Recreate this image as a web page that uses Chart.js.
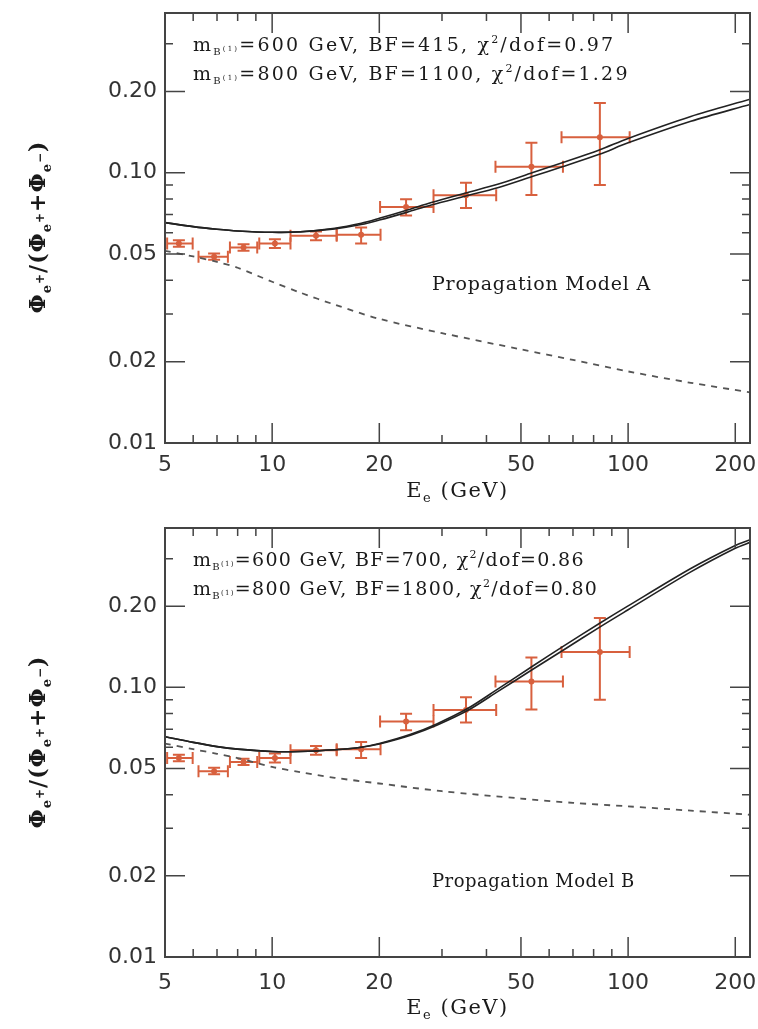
<!DOCTYPE html>
<html>
<head>
<meta charset="utf-8">
<script src="https://cdn.jsdelivr.net/npm/chart.js@4.4.0/dist/chart.umd.min.js"></script>
<style>
  html, body { margin: 0; padding: 0; background: #fff; }
  canvas { display: block; }
</style>
</head>
<body>
<canvas id="chartA" width="758" height="515"></canvas>
<canvas id="chartB" width="758" height="514"></canvas>
<script>
// axis ticks
const xTicks = [5, 10, 20, 50, 100, 200];
const xMinor = [6, 7, 8, 9, 30, 40, 60, 70, 80, 90];
const yTicks = [0.01, 0.02, 0.05, 0.10, 0.20];
const yMinor = [0.03, 0.04, 0.06, 0.07, 0.08, 0.09, 0.3];

// measured positron fraction (same points in both panels)
const dataE = [5.47, 6.87, 8.31, 10.18, 13.28, 17.78, 23.78, 35.04, 53.5, 83.3];
const dataF = [0.0547, 0.0489, 0.0529, 0.0547, 0.0584, 0.0589, 0.0747, 0.0825, 0.1052, 0.1353];
const dataELow = [5.07, 6.21, 7.61, 9.20, 11.26, 15.18, 20.1, 28.4, 42.4, 65.0];
const dataEHigh = [5.98, 7.51, 9.08, 11.26, 15.18, 20.16, 28.4, 42.6, 65.6, 101];
const dataFLow = [0.0532, 0.0476, 0.0515, 0.0527, 0.0563, 0.0547, 0.0694, 0.0741, 0.0828, 0.0900];
const dataFHigh = [0.0563, 0.0503, 0.0544, 0.0568, 0.0606, 0.0627, 0.0798, 0.0919, 0.1290, 0.1810];

// model A curves
const curveEA = [5, 6, 7, 8, 10, 12, 15, 17.8, 20, 24, 28, 35, 43, 54, 65, 83, 100, 150, 220];
const modelA600 = [0.0654, 0.0632, 0.0618, 0.0609, 0.0602, 0.0605, 0.0623, 0.0650, 0.0678, 0.0728, 0.0776, 0.0842, 0.0906, 0.1002, 0.1087, 0.1215, 0.1340, 0.1615, 0.1870];
const modelA800 = [0.0654, 0.0632, 0.0618, 0.0609, 0.0602, 0.0604, 0.0620, 0.0643, 0.0668, 0.0715, 0.0760, 0.0820, 0.0880, 0.0970, 0.1050, 0.1170, 0.1290, 0.1550, 0.1790];
const bgE = [5, 6, 7, 8, 10, 12, 15, 20, 30, 50, 70, 100, 150, 220];
const bgA = [0.0514, 0.0490, 0.0468, 0.0445, 0.0395, 0.0360, 0.0325, 0.0288, 0.0255, 0.0222, 0.0203, 0.0184, 0.0167, 0.0154];

// model B curves
const curveEB = [5, 6, 7, 8, 10, 12, 15, 17.8, 20, 24.5, 29, 35.6, 43, 54, 66, 83, 100, 150, 200, 220];
const modelB600 = [0.0656, 0.0625, 0.0603, 0.0590, 0.0578, 0.0578, 0.0587, 0.0600, 0.0619, 0.0670, 0.0732, 0.0838, 0.0985, 0.1200, 0.1425, 0.1725, 0.2005, 0.2760, 0.3360, 0.3530];
const modelB800 = [0.0656, 0.0625, 0.0603, 0.0590, 0.0578, 0.0578, 0.0587, 0.0600, 0.0617, 0.0665, 0.0724, 0.0824, 0.0964, 0.1167, 0.1379, 0.1670, 0.1940, 0.2680, 0.3280, 0.3450];
const bgB = [0.0619, 0.0590, 0.0567, 0.0547, 0.0507, 0.0485, 0.0462, 0.0440, 0.0412, 0.0387, 0.0373, 0.0362, 0.0349, 0.0337];

const RED = '#d8603e';
const SERIF = '"DejaVu Serif", "Liberation Serif", serif';

function pts(xs, ys) {
    return xs.map((x, i) => ({ x: x, y: ys[i] }));
}

// draws text made of pieces: [text, size, dy]
function richText(ctx, x, y, parts, align, weight, spacing) {
    const w = weight || '';
    ctx.letterSpacing = (spacing || 0) + 'px';
    let total = 0;
    parts.forEach(p => {
        ctx.font = w + ' ' + p[1] + 'px ' + SERIF;
        total += ctx.measureText(p[0]).width;
    });
    let cx = align === 'center' ? x - total / 2 : x;
    ctx.textAlign = 'left';
    ctx.textBaseline = 'alphabetic';
    parts.forEach(p => {
        ctx.font = w + ' ' + p[1] + 'px ' + SERIF;
        ctx.fillText(p[0], cx, y + (p[2] || 0));
        cx += ctx.measureText(p[0]).width;
    });
    ctx.letterSpacing = '0px';
}

const framePlugin = {
    id: 'frame',
    beforeDatasetsDraw(chart) {
        const { ctx, scales: { x, y } } = chart;
        ctx.save();
        ctx.strokeStyle = RED;
        ctx.lineWidth = 2;
        dataE.forEach((e, i) => {
            const px = x.getPixelForValue(e);
            const py = y.getPixelForValue(dataF[i]);
            const x0 = x.getPixelForValue(dataELow[i]);
            const x1 = x.getPixelForValue(dataEHigh[i]);
            const y0 = y.getPixelForValue(dataFLow[i]);
            const y1 = y.getPixelForValue(dataFHigh[i]);
            ctx.beginPath();
            ctx.moveTo(x0, py); ctx.lineTo(x1, py);
            ctx.moveTo(x0, py - 6); ctx.lineTo(x0, py + 6);
            ctx.moveTo(x1, py - 6); ctx.lineTo(x1, py + 6);
            ctx.moveTo(px, y0); ctx.lineTo(px, y1);
            ctx.moveTo(px - 6, y0); ctx.lineTo(px + 6, y0);
            ctx.moveTo(px - 6, y1); ctx.lineTo(px + 6, y1);
            ctx.stroke();
        });
        ctx.restore();
    },
    afterDraw(chart, args, opts) {
        const { ctx, chartArea: a, scales: { x, y } } = chart;
        ctx.save();
        ctx.strokeStyle = '#444';
        ctx.lineWidth = 1.5;
        ctx.beginPath();
        xTicks.concat(xMinor).forEach(v => {
            const px = x.getPixelForValue(v);
            const len = xTicks.includes(v) ? 20 : 8;
            ctx.moveTo(px, a.bottom); ctx.lineTo(px, a.bottom - len);
            ctx.moveTo(px, a.top); ctx.lineTo(px, a.top + len);
        });
        yTicks.concat(yMinor).forEach(v => {
            const py = y.getPixelForValue(v);
            const len = yTicks.includes(v) ? 20 : 8;
            ctx.moveTo(a.left, py); ctx.lineTo(a.left + len, py);
            ctx.moveTo(a.right, py); ctx.lineTo(a.right - len, py);
        });
        ctx.stroke();
        ctx.lineWidth = 2;
        ctx.strokeRect(a.left, a.top, a.right - a.left, a.bottom - a.top);

        ctx.fillStyle = '#1a1a1a';
        // legend text
        opts.lines.forEach((l, i) => {
            richText(ctx, a.left + 28, a.top + 38 + i * 29, [
                ['m', 19], ['B', 10, 4], ['(1)', 7, 0],
                ['=' + l[0] + ' GeV, BF=' + l[1] + ', ', 19],
                ['\u03c7', 19], ['2', 11, -8], ['/dof=' + l[2], 19]
            ], 'left', '', opts.spacing);
        });
        richText(ctx, a.left + 267, opts.modelY, [[opts.model, opts.modelSize]], 'left', '', opts.modelSpacing);

        // x title
        richText(ctx, (a.left + a.right) / 2, a.bottom + opts.xTitleDy, [
            ['E', 21], ['e', 13, 5], [' (GeV)', 21]
        ], 'center', '', 1.5);

        // y title
        ctx.translate(38, a.top + 214);
        ctx.rotate(-Math.PI / 2);
        const phi = sign => [['\u03a6', 22], ['e', 13, 6], [sign, 12, -1]];
        richText(ctx, 0, 7, [].concat(
            phi('+'), [['/(', 22]], phi('+'), [['+', 22]], phi('\u2212'), [[')', 22]]
        ), 'center', 'bold', 1);
        ctx.restore();
    }
};

function makeChart(id, c600, c800, cE, bg, opts) {
    return new Chart(document.getElementById(id), {
        type: 'line',
        data: {
            datasets: [
                {
                    data: pts(cE, c600),
                    borderColor: '#222', borderWidth: 1.6,
                    pointRadius: 0, tension: 0.3, fill: false
                },
                {
                    data: pts(cE, c800),
                    borderColor: '#222', borderWidth: 1.6,
                    pointRadius: 0, tension: 0.3, fill: false
                },
                {
                    data: pts(bgE, bg),
                    borderColor: '#555', borderWidth: 1.8, borderDash: [6, 6],
                    pointRadius: 0, tension: 0.3, fill: false
                },
                {
                    type: 'scatter',
                    data: pts(dataE, dataF),
                    showLine: false,
                    pointRadius: 3, pointBackgroundColor: RED, pointBorderWidth: 0
                }
            ]
        },
        options: {
            responsive: false,
            animation: false,
            devicePixelRatio: 1,
            layout: { padding: { top: 13, right: 8, left: 0, bottom: 0 } },
            plugins: {
                legend: { display: false },
                tooltip: { enabled: false },
                frame: opts
            },
            scales: {
                x: {
                    type: 'logarithmic',
                    min: 5, max: 220,
                    grid: { display: false, drawTicks: false },
                    border: { display: false },
                    afterBuildTicks: s => { s.ticks = xTicks.map(v => ({ value: v })); },
                    afterFit: s => { s.height = opts.xHeight; s.paddingLeft = 0; s.paddingRight = 0; },
                    ticks: {
                        autoSkip: false, maxRotation: 0, padding: opts.xPad,
                        color: '#333',
                        font: { family: '"DejaVu Sans", sans-serif', size: 22 },
                        callback: v => String(v)
                    }
                },
                y: {
                    type: 'logarithmic',
                    min: 0.01, max: 0.39,
                    grid: { display: false, drawTicks: false },
                    border: { display: false },
                    afterBuildTicks: s => { s.ticks = yTicks.map(v => ({ value: v })); },
                    afterFit: s => { s.width = 165; s.paddingTop = 0; s.paddingBottom = 0; },
                    ticks: {
                        autoSkip: false, padding: 8,
                        color: '#333',
                        font: { family: '"DejaVu Sans", sans-serif', size: 22 },
                        callback: v => Number(v).toFixed(2)
                    }
                }
            }
        },
        plugins: [framePlugin]
    });
}

makeChart('chartA', modelA600, modelA800, curveEA, bgA, {
    lines: [['600', '415', '0.97'], ['800', '1100', '1.29']],
    spacing: 2.2,
    model: 'Propagation Model A', modelY: 290, modelSize: 19, modelSpacing: 0.8,
    xHeight: 72, xPad: 9, xTitleDy: 54
});
makeChart('chartB', modelB600, modelB800, curveEB, bgB, {
    lines: [['600', '700', '0.86'], ['800', '1800', '0.80']],
    spacing: 1.3,
    model: 'Propagation Model B', modelY: 372, modelSize: 18, modelSpacing: 0.5,
    xHeight: 72, xPad: 13, xTitleDy: 57
});
</script>
</body>
</html>
